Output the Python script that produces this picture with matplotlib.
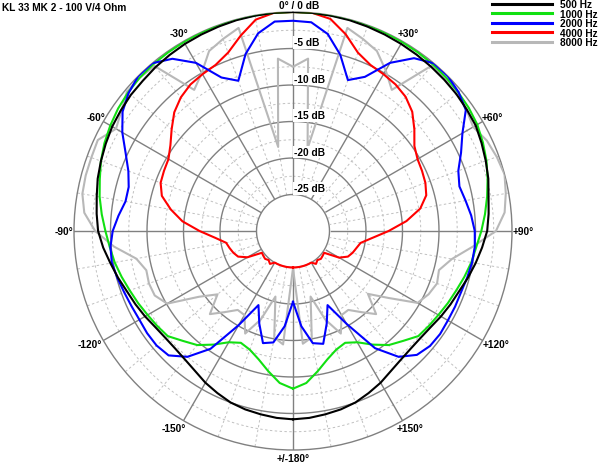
import numpy as np
import matplotlib.pyplot as plt

plt.rcParams['font.family'] = ['Liberation Sans', 'DejaVu Sans']

# measurement angles, degrees (0 = on axis, clockwise positive)
angles = np.arange(-180, 181, 5)

db_500 = [-4.2, -4.3, -4.5, -4.7, -5.0, -5.5, -6.0, -6.6, -7.0, -7.2, -7.2, -7.0, -6.6,
          -6.2, -5.8, -5.2, -4.6, -3.9, -3.3, -3.0, -2.7, -2.3, -2.0, -1.7, -1.4, -1.2,
          -1.0, -0.9, -0.7, -0.55, -0.4, -0.3, -0.2, -0.1, -0.05, 0.0, 0.0, 0.0, -0.05,
          -0.1, -0.2, -0.3, -0.4, -0.5, -0.6, -0.7, -0.8, -0.95, -1.1, -1.5, -1.9, -2.3,
          -2.8, -3.1, -3.4, -4.0, -4.6, -5.2, -5.8, -6.2, -6.6, -7.0, -7.2, -7.2, -7.0,
          -6.6, -6.0, -5.5, -5.0, -4.7, -4.5, -4.3, -4.2]

db_1000 = [-8.4, -9.1, -10.5, -11.8, -12.7, -13.1, -12.4, -11.0, -9.6, -8.7, -7.6, -7.3,
           -7.0, -6.6, -6.2, -5.7, -5.2, -4.8, -4.3, -3.7, -3.1, -2.6, -2.0, -1.5, -1.1,
           -0.75, -0.5, -0.3, -0.2, -0.15, -0.1, -0.05, 0.0, 0.0, 0.0, 0.0, 0.0, 0.0,
           0.0, 0.0, 0.0, -0.05, -0.1, -0.15, -0.2, -0.3, -0.45, -0.6, -0.85, -1.3, -1.8,
           -2.4, -3.0, -3.6, -4.2, -4.8, -5.2, -5.7, -6.2, -6.6, -7.0, -7.3, -7.6, -8.7,
           -9.6, -11.0, -12.4, -13.1, -12.7, -11.8, -10.5, -9.1, -8.4]

db_2000 = [-20.3, -16.9, -14.5, -14.1, -16.5, -18.8, -15.1, -10.3, -7.5, -5.9, -5.6, -5.6,
           -5.7, -5.6, -5.4, -5.1, -4.8, -4.9, -5.3, -6.0, -6.7, -6.7, -6.0, -4.7, -3.0,
           -1.5, -0.6, 0.0, 0.0, -1.2, -3.4, -6.8, -8.1, -4.9, -2.5, -1.2, -1.2, -1.3,
           -2.6, -5.0, -8.0, -6.7, -3.4, -1.1, 0.0, 0.0, -0.4, -1.1, -3.2, -4.6, -5.9,
           -6.4, -6.0, -5.5, -5.1, -5.0, -5.1, -5.3, -5.5, -5.5, -5.5, -5.4, -5.5, -6.0,
           -7.5, -10.4, -15.3, -18.8, -16.5, -14.0, -14.4, -16.9, -20.3]

db_4000 = [-25.0, -25.0, -25.0, -25.0, -25.0, -25.0, -25.0, -24.5, -24.8, -24.6, -24.7,
           -24.8, -22.8, -21.7, -21.3, -21.0, -20.7, -19.3, -17.2, -14.8, -13.0, -11.4,
           -10.7, -10.5, -10.3, -9.5, -8.3, -7.0, -6.1, -5.5, -5.2, -4.9, -4.0, -2.3,
           -0.6, 0.0, 0.0, 0.0, -0.5, -2.1, -4.0, -4.9, -5.2, -5.5, -6.0, -6.9, -8.3,
           -9.7, -10.3, -10.5, -10.7, -11.1, -12.3, -14.4, -16.9, -19.1, -20.6, -21.0,
           -21.3, -21.7, -22.7, -24.8, -24.7, -24.6, -24.8, -24.5, -25.0, -25.0, -25.0,
           -25.0, -25.0, -25.0, -25.0]

db_8000 = [-24.9, -14.4, -15.2, -20.7, -17.1, -14.5, -16.7, -16.8, -15.5, -13.9, -16.5,
           -14.3, -10.1, -9.1, -9.0, -9.2, -8.2, -5.4, -2.9, -1.3, -0.7, -0.6, -0.6, -0.5,
           -2.0, -1.3, -0.3, -0.3, -0.5, -6.4, -5.0, -2.8, -2.0, -1.2, -18.3, -6.3, -7.5,
           -6.3, -18.5, -1.2, -2.0, -2.8, -4.6, -6.4, -0.4, -0.5, -0.5, -1.0, -1.5, -0.7,
           -0.3, 0.0, -0.4, -0.9, -2.2, -5.3, -7.9, -9.3, -9.0, -9.5, -10.3, -14.0, -16.6,
           -13.9, -15.5, -16.8, -16.7, -14.5, -17.1, -20.7, -15.2, -14.5, -24.9]

series = [db_500, db_1000, db_2000, db_4000, db_8000]
labels = ["500 Hz", "1000 Hz", "2000 Hz", "4000 Hz", "8000 Hz"]
colors = ["#000000", "#11e011", "#0000ff", "#ff0000", "#b8b8b8"]
layers = [7, 5, 6, 4, 3]

ring_major = [-25, -20, -15, -10, -5]
ring_minor = [-22.5, -17.5, -12.5, -7.5, -2.5]
ring_text = ["-25 dB", "-20 dB", "-15 dB", "-10 dB", "-5 dB"]

spoke_angles = [-150, -120, -90, -60, -30, 30, 60, 90, 120, 150, 180]
spoke_text = ["-150°", "-120°", "-90°", "-60°", "-30°", "+30°", "+60°", "+90°",
              "+120°", "+150°", "+/-180°"]
# text offsets in pixels from the end of each spoke
spoke_off = [(2, -7, 'right'), (-1, -4, 'right'), (-1, 0, 'right'), (2, 4, 'right'),
             (5, 8, 'right'), (-5, 8, 'left'), (-1, 4, 'left'), (1, 0, 'left'),
             (0, -4, 'left'), (-6, -7, 'left'), (0, -8, 'center')]

fig = plt.figure(figsize=(6, 4.64), dpi=100)
ax = fig.add_axes([74 / 600, 13 / 464, 438 / 600, 438 / 464], projection='polar')
ax.set_theta_zero_location('N')
ax.set_theta_direction(-1)
ax.set_ylim(-30, 0)
ax.set_xticks([])
ax.set_yticks([])
ax.grid(False)
ax.spines['polar'].set_color('#808080')
ax.spines['polar'].set_linewidth(1.0)

full = np.linspace(0, 2 * np.pi, 721)

# white hole inside -25 dB
ax.fill_between(full, -30, -25, color='white', zorder=2)

for v in ring_minor:
    ax.plot(full, np.full_like(full, v), color='#c0c0c0', lw=0.7, ls=(0, (2.5, 2.5)), zorder=1)
for v in ring_major:
    ax.plot(full, np.full_like(full, v), color='#808080', lw=1.0, zorder=2.5)

for a in range(-180, 180, 10):
    t = np.deg2rad(a)
    if a % 30 == 0:
        ax.plot([t, t], [-25, 0], color='#808080', lw=1.0, zorder=1.5)
    else:
        ax.plot([t, t], [-25, 0], color='#c0c0c0', lw=0.7, ls=(0, (2.5, 2.5)), zorder=1)

lines = []
for vals, lab, col, z in zip(series, labels, colors, layers):
    ln, = ax.plot(np.deg2rad(angles), vals, color=col, lw=1.5, label=lab, zorder=z)
    lines.append(ln)

bold = dict(fontsize=7.3, fontweight='bold')

for v, s in zip(ring_major, ring_text):
    ax.annotate(s, xy=(0, v), xytext=(1, 6), textcoords='offset pixels',
                ha='left', va='center', zorder=10,
                bbox=dict(boxstyle='square,pad=0.1', fc='white', ec='none'), **bold)

for a, s, (dx, dy, ha) in zip(spoke_angles, spoke_text, spoke_off):
    ax.annotate(s, xy=(np.deg2rad(a), 0), xytext=(dx, dy), textcoords='offset pixels',
                ha=ha, va='center', annotation_clip=False, **bold)

ax.annotate("0° / 0 dB", xy=(0, 0), xytext=(6, 7), textcoords='offset pixels',
            ha='center', va='center', annotation_clip=False, **bold)

fig.text(2 / 600, 1 - 8 / 464, "KL 33 MK 2 - 100 V/4 Ohm", ha='left', va='center', **bold)

fig.legend(handles=lines, loc='upper right', bbox_to_anchor=(598 / 600, 1 - 0.5 / 464),
           frameon=False, borderpad=0, borderaxespad=0, handlelength=5.9,
           handletextpad=0.8, labelspacing=-0.06,
           prop=dict(size=7.3, weight='bold'))
for h in fig.legends[0].legend_handles:
    h.set_linewidth(2.2)

fig.savefig('out.png', dpi=100)
